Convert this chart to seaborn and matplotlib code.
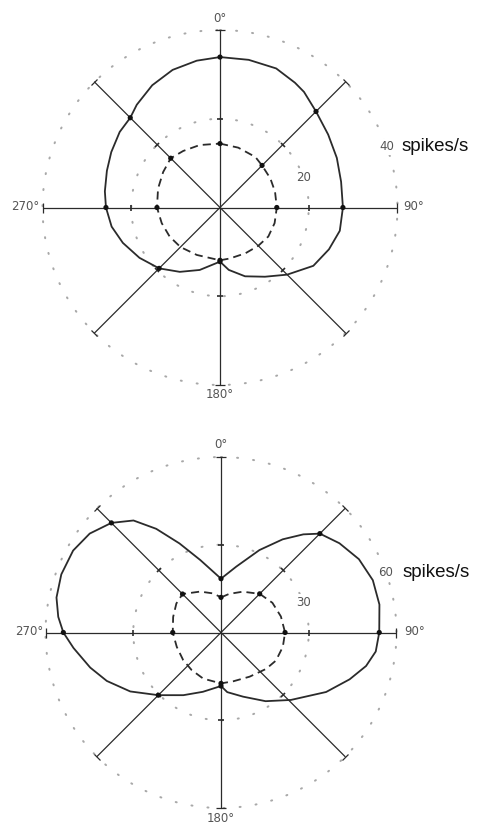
import numpy as np
import matplotlib
matplotlib.use("Agg")
import matplotlib.pyplot as plt
from matplotlib.markers import MarkerStyle
from matplotlib.transforms import Affine2D
import seaborn as sns

# ---------------------------------------------------------------------------
# Firing rate (spikes/s) against stimulus direction (deg, clockwise from 0°)
# ---------------------------------------------------------------------------
# upper diagram
top_solid_deg = [0, 11, 22, 31, 36, 45, 56, 67, 78, 90, 101, 111, 122, 135,
                 147, 160, 172, 180, 198, 212, 225, 238, 250, 260, 270, 278,
                 288, 297, 307, 315, 321, 331, 341, 351]
top_solid_rate = [33.9, 33.9, 33.8, 32.8, 32.2, 30.6, 29.4, 28.6, 27.9, 27.7,
                  27.5, 26.3, 24.8, 21.4, 18.6, 16.5, 14.2, 12.2, 14.8, 17.1,
                  19.4, 21.4, 23.3, 24.8, 25.7, 26.2, 26.8, 27.5, 28.3, 28.6,
                  29.8, 31.5, 32.8, 33.5]
top_dashed_deg = [0, 17, 35, 45, 60, 74, 90, 106, 121, 135, 151, 169, 180,
                  206, 225, 240, 255, 270, 287, 302, 315, 327, 342]
top_dashed_rate = [14.4, 14.1, 13.9, 13.4, 13.1, 12.9, 12.8, 12.8, 12.7, 12.2,
                   11.8, 11.7, 11.9, 11.9, 12.6, 13.1, 13.6, 14.2, 14.6, 15.1,
                   15.7, 15.2, 14.8]
top_solid_marked = [0, 45, 90, 180, 225, 270, 315]
top_dashed_marked = [0, 45, 90, 180, 270, 315]
top_rings = [20, 40]

# lower diagram
bottom_solid_deg = [0, 13, 25, 33.5, 40, 45, 53, 62, 71, 80, 90, 97, 103, 110,
                    119.5, 134, 147, 161, 174, 180, 197, 211, 225, 237, 247,
                    255, 264, 270, 275.5, 282, 290, 299, 307, 315, 322, 328,
                    335, 344]
bottom_solid_rate = [18.4, 23.1, 31.1, 38.2, 43.8, 47.8, 50.7, 53.4, 54.9,
                     55.0, 54.1, 53.3, 50.9, 46.8, 41.3, 33.2, 28.0, 23.2,
                     20.5, 18.3, 21.2, 25.0, 30.3, 37.0, 42.4, 46.3, 50.7,
                     53.9, 55.9, 57.5, 58.1, 57.8, 56.2, 53.0, 48.6, 41.8,
                     33.6, 25.8]
bottom_dashed_deg = [0, 12, 28, 45, 60, 75, 90, 103, 117, 129, 147, 166, 180,
                     201, 218, 234, 252, 270, 288, 303, 315, 333, 349]
bottom_dashed_rate = [12.0, 13.5, 15.8, 18.7, 20.3, 21.2, 21.9, 21.7, 21.1,
                      19.8, 18.0, 17.2, 17.4, 16.9, 16.3, 16.0, 15.9, 16.5,
                      17.2, 18.2, 18.6, 15.7, 13.6]
bottom_solid_marked = [0, 45, 90, 180, 225, 270, 315]
bottom_dashed_marked = [0, 45, 90, 180, 270, 315]
bottom_rings = [30, 60]

axis_deg = [0, 45, 90, 135, 180, 225, 270, 315]
cardinal_deg = [0, 90, 180, 270]
cardinal_labels = ["0°", "90°", "180°", "270°"]
ring_label_deg = 70
unit_label = "spikes/s"

INK = "#2b2b2b"
GREY = "#555555"
DOTS = "#a8a8a8"

sns.set_style("white")
plt.rcParams["font.family"] = ["DejaVu Sans"]


def closed(deg, rate):
    th = np.deg2rad(np.r_[deg, deg[0] + 360])
    r = np.r_[rate, rate[0]]
    return th, r


def tick_marker(a):
    # short bar perpendicular to the ray at compass angle a
    return MarkerStyle("|", transform=Affine2D().rotate_deg(90 - a))


def draw_panel(ax, solid_deg, solid_rate, dashed_deg, dashed_rate,
               solid_marked, dashed_marked, rings, label_pad):
    R = rings[-1]
    ax.set_theta_zero_location("N")
    ax.set_theta_direction(-1)
    ax.axis("off")

    # dotted reference circles
    circ = np.linspace(0, 2 * np.pi, 500)
    for ring in rings:
        ax.plot(circ, np.full_like(circ, ring), ls=(0, (0.5, 7.5)), lw=1.45,
                color=DOTS, dash_capstyle="round", clip_on=False, zorder=1)

    # eight direction axes with end caps and mid ticks
    for a in axis_deg:
        t = np.deg2rad(a)
        ax.plot([t, t], [0, R], color=INK, lw=0.9, clip_on=False, zorder=2)
        ax.plot([t], [R], marker=tick_marker(a), ms=7, mew=0.9, color=INK,
                clip_on=False, zorder=2)
        ax.plot([t], [rings[0]], marker=tick_marker(a), ms=5, mew=1.2,
                color=INK, clip_on=False, zorder=2)

    # direction labels
    offs = {0: (0, label_pad[0], "center", "center"),
            90: (label_pad[1], 1, "left", "center"),
            180: (0, -label_pad[2], "center", "center"),
            270: (-label_pad[3], 1, "right", "center")}
    for a, lab in zip(cardinal_deg, cardinal_labels):
        dx, dy, ha, va = offs[a]
        ax.annotate(lab, xy=(np.deg2rad(a), R), xytext=(dx, dy),
                    textcoords="offset pixels", ha=ha, va=va, fontsize=8.5,
                    color=GREY, annotation_clip=False)

    # ring values
    for ring in rings:
        ax.text(np.deg2rad(ring_label_deg), ring, str(ring), ha="center",
                va="center", fontsize=8.5, color=GREY, zorder=3,
                bbox=dict(boxstyle="square,pad=0.15", fc="white", ec="none"))
    ax.annotate(unit_label, xy=(np.deg2rad(ring_label_deg), R),
                xytext=(label_pad[4], 0), textcoords="offset pixels",
                ha="left", va="center", fontsize=13.5, color="#111111",
                family=["Liberation Sans", "DejaVu Sans"],
                annotation_clip=False)

    # response curves
    th, r = closed(solid_deg, solid_rate)
    sns.lineplot(x=th, y=r, ax=ax, sort=False, estimator=None, color=INK,
                 lw=1.3, legend=False, clip_on=False, zorder=4)
    th, r = closed(dashed_deg, dashed_rate)
    sns.lineplot(x=th, y=r, ax=ax, sort=False, estimator=None, color=INK,
                 lw=1.3, linestyle=(0, (4.5, 2.8)), legend=False,
                 clip_on=False, zorder=4)

    # measured points on the axes
    for deg, rate, marked in ((solid_deg, solid_rate, solid_marked),
                              (dashed_deg, dashed_rate, dashed_marked)):
        sel = [i for i, d in enumerate(deg) if d in marked]
        sns.scatterplot(x=np.deg2rad([deg[i] for i in sel]),
                        y=[rate[i] for i in sel], ax=ax, color="#111111",
                        s=14, edgecolor="none", legend=False, zorder=5,
                        clip_on=False)

    ax.set_ylim(0, R)
    ax.set_xlabel("")
    ax.set_ylabel("")


W, H = 481, 826
fig = plt.figure(figsize=(W / 100, H / 100), dpi=100)
fig.patch.set_facecolor("white")

# upper panel: centre (220, 207.5) px, outer radius 177.5 px
cx, cy, rad = 220, 207.5, 177.5
ax1 = fig.add_axes([(cx - rad) / W, 1 - (cy + rad) / H, 2 * rad / W,
                    2 * rad / H], projection="polar")
draw_panel(ax1, top_solid_deg, top_solid_rate, top_dashed_deg,
           top_dashed_rate, top_solid_marked, top_dashed_marked, top_rings,
           label_pad=(11, 6, 9, 3, 15))

# lower panel: centre (221, 632.5) px, outer radius 175.5 px
cx, cy, rad = 221, 632.5, 175.5
ax2 = fig.add_axes([(cx - rad) / W, 1 - (cy + rad) / H, 2 * rad / W,
                    2 * rad / H], projection="polar")
draw_panel(ax2, bottom_solid_deg, bottom_solid_rate, bottom_dashed_deg,
           bottom_dashed_rate, bottom_solid_marked, bottom_dashed_marked,
           bottom_rings, label_pad=(12, 8, 11, 2, 17))

fig.savefig("out.png", dpi=100, facecolor="white")
